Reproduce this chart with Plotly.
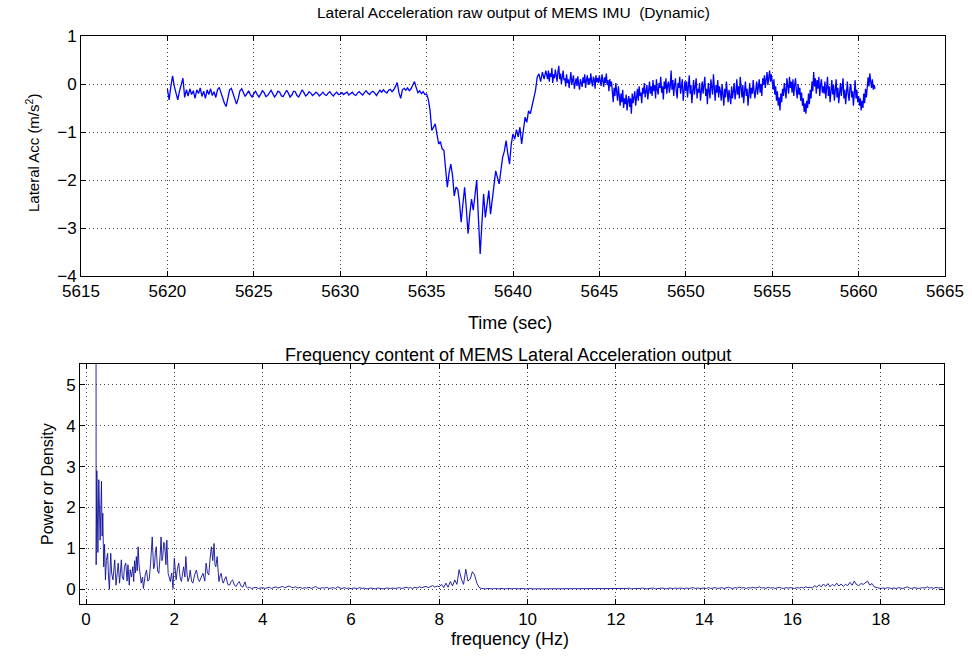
import plotly.graph_objects as go

# ---------------- data ----------------
# segment A: 5620.0 - 5641.9 s, sampled every 0.1 s
seg_a_start = 5620.0
seg_a_step = 0.1
lateral_acc_a = [
    -0.10, -0.33, -0.05, 0.17, -0.05, -0.22, -0.33, -0.15, -0.02, 0.12,
    -0.28, -0.12, -0.25, -0.10, -0.22, -0.14, -0.30, -0.12, -0.20, -0.08,
    -0.26, -0.15, -0.30, -0.12, -0.22, -0.10, -0.24, -0.16, -0.28, -0.12,
    -0.07, -0.18, -0.32, -0.40, -0.47, -0.30, -0.12, -0.09, -0.20, -0.32,
    -0.42, -0.30, -0.14, -0.10, -0.18, -0.26, -0.20, -0.14, -0.22, -0.27,
    -0.20, -0.15, -0.22, -0.27, -0.21, -0.14, -0.18, -0.26, -0.24, -0.17,
    -0.13, -0.20, -0.27, -0.22, -0.15, -0.17, -0.25, -0.26, -0.18, -0.13,
    -0.19, -0.27, -0.23, -0.15, -0.16, -0.24, -0.27, -0.19, -0.12, -0.18,
    -0.25, -0.22, -0.16, -0.19, -0.24, -0.21, -0.17, -0.20, -0.25, -0.21,
    -0.17, -0.22, -0.24, -0.19, -0.16, -0.21, -0.25, -0.20, -0.17, -0.22,
    -0.21, -0.18, -0.22, -0.19, -0.17, -0.23, -0.20, -0.17, -0.22, -0.24,
    -0.19, -0.16, -0.20, -0.23, -0.18, -0.14, -0.19, -0.22, -0.17, -0.15,
    -0.19, -0.24, -0.18, -0.13, -0.17, -0.12, -0.16, -0.19, -0.13, -0.11,
    -0.16, -0.12, -0.05, 0.03, -0.18, -0.30, -0.12, -0.09, -0.13, -0.08,
    -0.14, -0.10, -0.02, 0.05, -0.08, -0.18, -0.14, -0.20, -0.16, -0.22,
    -0.21, -0.32, -0.55, -0.97, -0.90, -0.83, -1.05, -1.25, -1.20, -1.35,
    -1.38, -1.75, -2.15, -1.85, -1.67, -1.90, -2.33, -2.15, -2.19, -2.45,
    -2.88, -2.50, -2.15, -2.60, -3.12, -2.70, -2.40, -2.63, -2.30, -2.00,
    -2.80, -3.54, -2.90, -2.29, -2.78, -2.50, -2.22, -2.71, -2.40, -2.05,
    -1.81, -1.95, -2.08, -1.80, -1.53, -1.40, -1.18, -1.45, -1.67, -1.25,
    -1.04, -1.15, -0.95, -1.10, -0.90, -1.25, -0.97, -0.69, -0.80, -0.56,
    -0.62, -0.45, -0.35, -0.14, 0.14, 0.21, 0.05, 0.25, 0.10, 0.28,
]

# segment B: 5642.00 - 5660.95 s, sampled every 0.05 s (one row per second)
seg_b_start = 5642.0
seg_b_step = 0.05
lateral_acc_b = [
    0.10, 0.28, 0.05, 0.22, 0.15, 0.33, 0.02, 0.20, 0.12, 0.30, 0.18, 0.05, 0.25, 0.38, 0.10, 0.22, 0.00, 0.15, 0.28, 0.08,
    0.12, -0.05, 0.20, 0.02, 0.10, -0.08, 0.15, 0.25, -0.02, 0.08, 0.18, -0.10, 0.05, 0.12, -0.04, 0.16, 0.00, -0.12, 0.10, 0.04,
    -0.06, 0.14, 0.02, 0.20, -0.08, 0.08, 0.18, -0.02, 0.12, 0.00, 0.22, 0.06, -0.05, 0.15, 0.10, -0.10, 0.18, 0.04, 0.12, 0.02,
    0.18, 0.06, -0.04, 0.20, 0.10, -0.06, 0.14, 0.02, 0.22, -0.02, 0.08, -0.15, 0.10, -0.05, 0.05, -0.20, -0.38, -0.08, -0.25, 0.02,
    -0.15, -0.35, -0.05, -0.28, -0.45, -0.20, -0.38, -0.12, -0.50, -0.30, -0.42, -0.22, -0.55, -0.35, -0.25, -0.48, -0.30, -0.62, -0.20, -0.40,
    -0.30, -0.15, -0.45, -0.22, -0.10, -0.35, -0.05, -0.25, -0.18, -0.40, -0.08, -0.20, 0.02, -0.28, -0.12, -0.02, -0.32, -0.15, 0.05, -0.20,
    -0.05, -0.25, 0.08, -0.15, -0.02, -0.30, 0.10, -0.12, -0.22, 0.02, -0.08, 0.15, -0.18, -0.05, -0.32, 0.05, -0.10, 0.12, -0.20, -0.02,
    0.05, -0.18, -0.05, 0.28, -0.12, 0.08, -0.25, -0.02, 0.12, -0.15, -0.30, 0.02, -0.08, 0.15, -0.20, -0.05, 0.10, -0.35, -0.10, 0.06,
    -0.15, 0.05, -0.28, -0.08, 0.18, -0.20, -0.02, -0.40, -0.12, 0.08, -0.22, -0.05, 0.12, -0.30, -0.10, -0.18, 0.02, -0.35, -0.08, 0.05,
    -0.20, -0.05, 0.15, -0.25, -0.10, -0.42, 0.02, -0.15, -0.30, 0.10, -0.08, -0.22, 0.20, -0.12, -0.35, -0.02, -0.18, 0.08, -0.28, -0.05,
    -0.15, -0.35, 0.00, -0.22, -0.45, -0.10, -0.28, 0.05, -0.20, -0.38, -0.12, -0.25, -0.42, -0.05, -0.30, -0.15, 0.02, -0.32, -0.18, 0.10,
    -0.22, -0.05, -0.30, 0.15, -0.12, -0.28, -0.02, -0.40, -0.15, 0.05, -0.25, -0.10, -0.45, -0.18, 0.02, -0.30, -0.08, -0.20, 0.08, -0.15,
    -0.30, -0.12, 0.05, -0.22, -0.05, 0.10, -0.18, 0.00, -0.25, 0.12, -0.02, 0.18, -0.08, 0.08, 0.25, -0.02, 0.14, 0.28, 0.05, 0.20,
    0.05, -0.12, 0.10, -0.22, -0.05, -0.35, -0.15, -0.45, -0.28, -0.55, -0.20, -0.38, -0.10, -0.25, 0.02, -0.15, -0.30, 0.12, -0.05, -0.20,
    0.15, -0.08, 0.05, -0.18, 0.10, -0.25, -0.02, 0.12, -0.15, -0.30, 0.00, -0.22, -0.08, -0.35, -0.18, -0.45, -0.30, -0.58, -0.40, -0.62,
    -0.35, -0.50, -0.20, -0.42, -0.12, -0.30, 0.05, -0.15, 0.25, -0.05, 0.12, -0.20, 0.08, -0.10, 0.15, -0.25, -0.02, 0.10, -0.18, -0.05,
    -0.20, 0.05, -0.30, -0.10, 0.15, -0.25, -0.05, -0.38, -0.12, 0.08, -0.22, -0.02, -0.35, -0.15, 0.10, -0.28, -0.08, -0.40, -0.18, 0.02,
    -0.25, -0.05, 0.12, -0.30, -0.12, -0.42, -0.18, 0.05, -0.22, -0.35, -0.08, 0.00, -0.28, -0.15, -0.45, -0.20, 0.08, -0.30, -0.12, -0.38,
    -0.25, -0.45, -0.30, -0.55, -0.35, -0.50, -0.20, -0.40, -0.10, -0.28, 0.00, 0.14, -0.05, 0.22, 0.05, -0.08, 0.10, -0.12, -0.02, -0.10,
]

time_sec = ([round(seg_a_start + seg_a_step * i, 2) for i in range(len(lateral_acc_a))]
            + [round(seg_b_start + seg_b_step * i, 2) for i in range(len(lateral_acc_b))])
lateral_acc = lateral_acc_a + lateral_acc_b

# spectrum, low-frequency part: (frequency Hz, power) pairs
spec_low_pairs = [
    (0.20, 60.0), (0.215, 9.0), (0.23, 0.60), (0.245, 2.90), (0.255, 2.27),
    (0.27, 0.90), (0.29, 2.68), (0.305, 1.60), (0.32, 1.20), (0.35, 2.64),
    (0.365, 1.30), (0.38, 1.86), (0.40, 0.55), (0.42, 1.10), (0.44, 0.23),
    (0.46, 0.70), (0.49, 0.88), (0.51, 0.30), (0.53, 0.00), (0.56, 0.88),
    (0.58, 0.40), (0.61, 0.23), (0.63, 0.60), (0.65, 0.72), (0.68, 0.10),
    (0.71, 0.50), (0.73, 0.64), (0.76, 0.15), (0.78, 0.45), (0.80, 0.72),
    (0.82, 0.30), (0.85, 0.23), (0.87, 0.55), (0.90, 0.64), (0.93, 0.20),
    (0.95, 0.60), (0.98, 0.10), (1.00, 0.48), (1.03, 0.30), (1.06, 0.55),
    (1.08, 0.19), (1.10, 0.70), (1.12, 0.40), (1.14, 0.80), (1.16, 0.45),
    (1.18, 1.04), (1.20, 0.60), (1.22, 0.39), (1.25, 0.15), (1.28, 0.30),
    (1.30, 0.02), (1.34, 0.35), (1.37, 0.47), (1.40, 0.20), (1.43, 0.23),
    (1.46, 0.60), (1.50, 1.28), (1.53, 0.50), (1.55, 0.55), (1.57, 0.90),
    (1.59, 1.04), (1.62, 0.45), (1.65, 0.39), (1.68, 0.85), (1.70, 1.28),
    (1.72, 0.70), (1.74, 0.80), (1.76, 1.15), (1.78, 1.12), (1.81, 0.60),
    (1.83, 1.20), (1.86, 0.39), (1.89, 0.25), (1.91, 0.19), (1.94, 0.40),
    (1.97, 0.02), (2.00, 0.76), (2.02, 0.35), (2.04, 0.23), (2.07, 0.50),
    (2.10, 0.64), (2.13, 0.30), (2.16, 0.19), (2.19, 0.40), (2.21, 0.55),
    (2.24, 0.30), (2.26, 0.80), (2.29, 0.35), (2.31, 0.19), (2.34, 0.30),
    (2.36, 0.47), (2.39, 0.20), (2.42, 0.15), (2.46, 0.35), (2.50, 0.47),
    (2.54, 0.25), (2.57, 0.19), (2.61, 0.30), (2.65, 0.39), (2.69, 0.20),
    (2.72, 0.64), (2.75, 0.40), (2.78, 0.35), (2.81, 0.75), (2.84, 1.04),
    (2.87, 0.70), (2.90, 1.12), (2.92, 0.60), (2.94, 0.55), (2.97, 0.80),
    (3.01, 0.19), (3.04, 0.35), (3.06, 0.39), (3.09, 0.20), (3.11, 0.15),
    (3.14, 0.25), (3.17, 0.31), (3.21, 0.12), (3.25, 0.10), (3.29, 0.20),
    (3.32, 0.23), (3.36, 0.10), (3.40, 0.07), (3.44, 0.15), (3.47, 0.19),
    (3.51, 0.08), (3.55, 0.05), (3.60, 0.18), (3.63, 0.06), (3.66, 0.03),
    (3.70, 0.05), (3.75, 0.02), (3.80, 0.03), (3.85, 0.05), (3.90, 0.02),
    (3.95, 0.03),
]

# spectrum from 4.00 Hz upward, sampled every 0.05 Hz (one row per Hz)
spec_hi_start = 4.0
spec_hi_step = 0.05
spec_hi_power = [
    # 4.00 - 4.95
    0.04, 0.02, 0.03, 0.05, 0.02, 0.04, 0.06, 0.03, 0.05, 0.07,
    0.04, 0.06, 0.08, 0.05, 0.04, 0.06, 0.03, 0.05, 0.02, 0.04,
    # 5
    0.03, 0.05, 0.02, 0.04, 0.07, 0.03, 0.02, 0.04, 0.03, 0.05,
    0.02, 0.03, 0.04, 0.02, 0.06, 0.03, 0.02, 0.04, 0.02, 0.03,
    # 6
    0.01, 0.03, 0.02, 0.02, 0.04, 0.02, 0.03, 0.01, 0.02, 0.03,
    0.02, 0.01, 0.03, 0.02, 0.02, 0.01, 0.03, 0.02, 0.02, 0.03,
    # 7
    0.02, 0.03, 0.04, 0.02, 0.03, 0.05, 0.03, 0.04, 0.02, 0.05,
    0.03, 0.06, 0.04, 0.05, 0.07, 0.04, 0.06, 0.09, 0.05, 0.08,
    # 8
    0.06, 0.12, 0.04, 0.15, 0.05, 0.19, 0.08, 0.23, 0.12, 0.48,
    0.25, 0.12, 0.49, 0.20, 0.25, 0.43, 0.35, 0.15, 0.05, 0.02,
    # 9
    0.02, 0.01, 0.02, 0.01, 0.01, 0.02, 0.01, 0.01, 0.02, 0.01,
    0.01, 0.02, 0.01, 0.01, 0.02, 0.01, 0.01, 0.02, 0.01, 0.01,
    # 10
    0.01, 0.02, 0.01, 0.01, 0.02, 0.01, 0.01, 0.01, 0.02, 0.01,
    0.01, 0.02, 0.01, 0.01, 0.01, 0.02, 0.01, 0.01, 0.02, 0.01,
    # 11
    0.01, 0.02, 0.01, 0.02, 0.01, 0.01, 0.02, 0.01, 0.02, 0.01,
    0.01, 0.02, 0.01, 0.02, 0.02, 0.01, 0.02, 0.01, 0.02, 0.01,
    # 12
    0.02, 0.01, 0.02, 0.02, 0.01, 0.02, 0.03, 0.01, 0.02, 0.02,
    0.01, 0.02, 0.03, 0.02, 0.01, 0.02, 0.02, 0.03, 0.01, 0.02,
    # 13
    0.02, 0.03, 0.02, 0.01, 0.03, 0.02, 0.02, 0.03, 0.02, 0.03,
    0.02, 0.02, 0.03, 0.02, 0.03, 0.04, 0.02, 0.03, 0.02, 0.03,
    # 14
    0.03, 0.02, 0.04, 0.02, 0.03, 0.04, 0.02, 0.03, 0.04, 0.02,
    0.03, 0.05, 0.03, 0.02, 0.04, 0.03, 0.05, 0.03, 0.04, 0.02,
    # 15
    0.04, 0.03, 0.05, 0.03, 0.04, 0.06, 0.03, 0.04, 0.02, 0.05,
    0.03, 0.04, 0.02, 0.03, 0.05, 0.03, 0.02, 0.04, 0.03, 0.04,
    # 16
    0.03, 0.02, 0.04, 0.03, 0.05, 0.03, 0.06, 0.04, 0.05, 0.03,
    0.09, 0.05, 0.11, 0.06, 0.13, 0.07, 0.14, 0.06, 0.12, 0.08,
    # 17
    0.15, 0.08, 0.13, 0.07, 0.12, 0.09, 0.17, 0.10, 0.20, 0.11,
    0.09, 0.14, 0.12, 0.16, 0.20, 0.10, 0.14, 0.06, 0.04, 0.03,
    # 18
    0.02, 0.03, 0.02, 0.04, 0.03, 0.02, 0.03, 0.02, 0.04, 0.03,
    0.02, 0.04, 0.06, 0.03, 0.02, 0.04, 0.03, 0.02, 0.03, 0.04,
    # 19.00 - 19.40
    0.03, 0.06, 0.03, 0.04, 0.02, 0.05, 0.03, 0.04, 0.03,
]

freq_hz = [p[0] for p in spec_low_pairs] + [
    round(spec_hi_start + spec_hi_step * i, 2) for i in range(len(spec_hi_power))]
power_density = [p[1] for p in spec_low_pairs] + spec_hi_power

time_ticks = [5615, 5620, 5625, 5630, 5635, 5640, 5645, 5650, 5655, 5660, 5665]
acc_ticks = [-4, -3, -2, -1, 0, 1]
freq_ticks = [0, 2, 4, 6, 8, 10, 12, 14, 16, 18]
power_ticks = [0, 1, 2, 3, 4, 5]

# ---------------- figure ----------------
W, H = 972, 656
FONT = "Liberation Sans, Arial, Helvetica, sans-serif"

fig = go.Figure()
fig.add_trace(go.Scatter(x=time_sec, y=lateral_acc, mode="lines",
                         line=dict(color="#0000ff", width=1.3),
                         xaxis="x", yaxis="y", showlegend=False))
fig.add_trace(go.Scatter(x=freq_hz, y=power_density, mode="lines",
                         line=dict(color="#10109a", width=0.9),
                         xaxis="x2", yaxis="y2", showlegend=False))


def px_x(a, b):
    return [a / W, b / W]


def px_y(top, bottom):
    return [1 - bottom / H, 1 - top / H]


axis_common = dict(
    showline=True, linecolor="black", linewidth=1, mirror="allticks",
    ticks="inside", ticklen=5, tickcolor="black", automargin=False,
    showgrid=True, gridcolor="#444444", gridwidth=1, griddash="1px,3px",
    zeroline=False, tickfont=dict(family=FONT, size=17, color="black"),
)

fig.update_layout(
    width=W, height=H,
    margin=dict(l=0, r=0, t=0, b=0, pad=0, autoexpand=False),
    paper_bgcolor="white", plot_bgcolor="white",
    font=dict(family=FONT, color="black"),
    xaxis=dict(axis_common, domain=px_x(81, 945), range=[5615, 5665],
               tickvals=time_ticks, anchor="y"),
    yaxis=dict(axis_common, domain=px_y(36, 276), range=[-4, 1],
               tickvals=acc_ticks, anchor="x"),
    xaxis2=dict(axis_common, domain=px_x(80, 944), range=[-0.136, 19.43],
                tickvals=freq_ticks, anchor="y2"),
    yaxis2=dict(axis_common, domain=px_y(364, 604), range=[-0.36, 5.51],
                tickvals=power_ticks, anchor="x2"),
)

ann = [
    dict(text="Lateral Acceleration raw output of MEMS IMU  (Dynamic)",
         x=513, y=13, size=15.5, angle=0),
    dict(text="Time (sec)", x=510, y=323, size=18, angle=0),
    dict(text="Lateral Acc (m/s<sup>2</sup>)", x=32, y=153, size=15, angle=-90),
    dict(text="Frequency content of MEMS Lateral Acceleration output",
         x=508, y=355, size=18, angle=0),
    dict(text="frequency (Hz)", x=510, y=639, size=18, angle=0),
    dict(text="Power or Density", x=47, y=484, size=16, angle=-90),
]
for a in ann:
    fig.add_annotation(text=a["text"], x=a["x"] / W, y=1 - a["y"] / H,
                       xref="paper", yref="paper", showarrow=False,
                       xanchor="center", yanchor="middle", textangle=a["angle"],
                       font=dict(family=FONT, size=a["size"], color="black"))

fig.write_html("out.html")
